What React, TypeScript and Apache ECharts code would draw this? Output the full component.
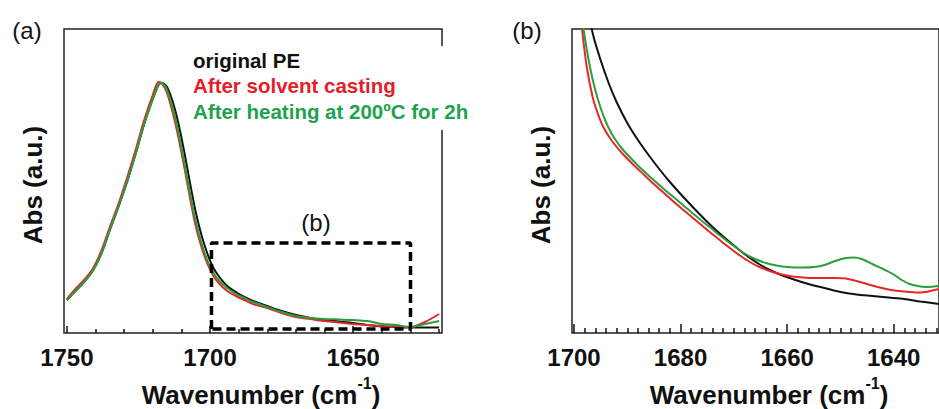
import React, { useEffect, useRef } from "react";
import * as echarts from "echarts";

const FONT = '"Liberation Sans", Arial, Helvetica, sans-serif';
const C_BLACK = "#111111";
const C_RED = "#e5262b";
const C_GREEN = "#2a9e3c";
const C_RED_TXT = "#e3202a";
const C_GREEN_TXT = "#22a24e";

// ---------- panel (a): full spectrum ----------
const wnA = [1750, 1747, 1744, 1741, 1738, 1735, 1732, 1729, 1726, 1723, 1720, 1718, 1717, 1716, 1715, 1713, 1711, 1709, 1707, 1705, 1703, 1701, 1699, 1697, 1694, 1691, 1688, 1685, 1680, 1675, 1670, 1665, 1660, 1655, 1650, 1645, 1640, 1635, 1630, 1625, 1620];
const absPE_A = [33, 42, 51, 62, 79, 103, 126, 151, 179, 209, 234, 248, 250, 249, 246, 231, 209, 181, 150, 121, 98, 80, 66, 57, 47, 41, 36, 32, 27, 22, 18, 15, 13, 11.5, 10, 8, 6.5, 6, 5.5, 5.5, 5.5];
const absCast_A = [34, 44, 53, 64, 82, 106, 129, 155, 183, 213, 238, 251, 250, 246, 240, 220, 195, 166, 135, 107, 86, 70, 58, 50, 42, 37, 33, 29, 25, 20, 16, 14, 12, 10.5, 9, 8, 7, 6.5, 6, 11, 19];
const absHeat_A = [33, 42, 51, 62, 79, 103, 126, 151, 179, 209, 234, 248, 250, 248, 243, 225, 200, 171, 140, 112, 90, 73, 61, 53, 45, 39, 35, 31, 26, 21, 17, 15, 14, 13.5, 13, 12, 9, 8, 6, 9, 12];
const majorTicksA = [1750, 1700, 1650];
const minorTicksA = [1740, 1730, 1720, 1710, 1690, 1680, 1670, 1660, 1640, 1630, 1620];
// zoom box (b) drawn on panel (a)
const boxWn = [1699.5, 1699.5, 1630, 1630, 1699.5];
const boxAbs = [4, 90, 90, 4, 4];

// ---------- panel (b): zoomed region ----------
const wnPE_B = [1698, 1696.5, 1695, 1693.5, 1692, 1690, 1688, 1686, 1684, 1682, 1680, 1677, 1674, 1671, 1668, 1665, 1662, 1659, 1656, 1653, 1650, 1647, 1644, 1641, 1638, 1635, 1631.5];
const absPE_B = [345, 300, 273, 250, 231, 210, 193, 178, 164, 151, 139, 122, 106, 92, 79, 68, 60, 54, 49, 45, 41, 38.5, 37, 35.5, 34, 31.5, 29];
const wnHeat_B = [1699.2, 1698.1, 1697, 1696, 1695, 1694, 1693, 1692, 1691, 1690, 1688, 1686, 1684, 1682, 1680, 1678, 1676, 1674, 1672, 1670, 1668, 1666, 1664, 1662, 1660, 1657, 1655, 1653, 1651, 1649, 1647.5, 1646, 1644, 1642, 1640, 1638.5, 1637, 1635.5, 1634, 1632.5, 1631.5];
const absHeat_B = [345, 300, 266, 243, 225, 211, 200, 191.5, 184.5, 178.5, 167.5, 157.5, 148, 139, 130, 121, 112, 103.5, 95, 87, 79.5, 74, 70, 67.5, 66, 65.5, 66, 68, 72, 75, 75.5, 74, 69, 64, 58.5, 53, 49, 47, 46, 46.5, 47];
const wnCast_B = [1699.3, 1698.4, 1697.6, 1696.5, 1695.5, 1694.5, 1693, 1691, 1689, 1687, 1685, 1683, 1681, 1679, 1677, 1675, 1673, 1671, 1669, 1667, 1665, 1663, 1661, 1659, 1657, 1655, 1653, 1651, 1649, 1647, 1645, 1643, 1641, 1639, 1637, 1635, 1633.5, 1631.5];
const absCast_B = [345, 300, 266, 236, 219, 206, 193, 180, 169, 159, 149, 139.5, 130, 121, 112, 103, 94.5, 86, 78, 71, 65.5, 61.5, 58.5, 56.5, 55.5, 55, 55, 55, 54.5, 52, 49, 46, 43.5, 42, 41, 40.5, 41.5, 44];
const majorTicksB = [1700, 1680, 1660, 1640];
const minorTicksB = [1698, 1696, 1694, 1692, 1690, 1688, 1686, 1684, 1682, 1678, 1676, 1674, 1672, 1670, 1668, 1666, 1664, 1662, 1658, 1656, 1654, 1652, 1650, 1648, 1646, 1644, 1642, 1638, 1636, 1634, 1632];

const legendNames = ["original PE", "After solvent casting", "After heating at 200ºC for 2h"];

const zip = (xs: number[], ys: number[]) => xs.map((x, i) => [x, ys[i]]);

function xAxes(grid: number, min: number, max: number, major: number[], minor: number[], majorLen: number, minorLen: number) {
  const tickStyle = { color: C_BLACK, width: 1.5 };
  return [
    {
      gridIndex: grid, type: "value", inverse: true, min, max, position: "bottom",
      axisLine: { show: false }, splitLine: { show: false },
      axisTick: { show: true, inside: true, length: majorLen, lineStyle: tickStyle, customValues: major },
      axisLabel: {
        show: true, customValues: major, fontSize: 24, fontWeight: "bold", fontFamily: FONT, color: C_BLACK, margin: 12,
        formatter: (v: number) => String(Math.round(v)),
      },
    },
    {
      gridIndex: grid, type: "value", inverse: true, min, max, position: "bottom",
      axisLine: { show: false }, splitLine: { show: false },
      axisTick: { show: true, inside: true, length: minorLen, lineStyle: tickStyle, customValues: minor },
      axisLabel: { show: false },
    },
  ];
}

function lineSeries(name: string, xi: number, yi: number, data: number[][], color: string) {
  return {
    name, type: "line", xAxisIndex: xi, yAxisIndex: yi, data, showSymbol: false, smooth: 0.3,
    clip: true, lineStyle: { color, width: 2 }, itemStyle: { color }, z: 3,
  };
}

export default function App() {
  const ref = useRef<HTMLDivElement>(null);
  useEffect(() => {
    if (!ref.current) return;
    const chart = echarts.init(ref.current, undefined, { renderer: "svg" });
    const xName = (x: number) => ({
      type: "text", x, y: 395, z: 100,
      style: {
        text: "{m|Wavenumber (cm}{s|-1}{m|)}",
        textAlign: "center", textVerticalAlign: "middle",
        rich: {
          m: { fontSize: 26, fontWeight: "bold", fontFamily: FONT, fill: C_BLACK, lineHeight: 40 },
          s: { fontSize: 16, fontWeight: "bold", fontFamily: FONT, fill: C_BLACK, verticalAlign: "top", lineHeight: 16 },
        },
      },
    });
    const yName = (x: number) => ({
      type: "text", x, y: 185, rotation: Math.PI / 2, z: 100,
      style: { text: "Abs (a.u.)", fontSize: 26, fontWeight: "bold", fontFamily: FONT, fill: C_BLACK, textAlign: "center", textVerticalAlign: "middle" },
    });
    const label = (text: string, x: number, y: number) => ({
      type: "text", x, y, z: 100,
      style: { text, fontSize: 24, fontFamily: FONT, fill: C_BLACK, textAlign: "center", textVerticalAlign: "middle" },
    });
    const legendColors = [C_BLACK, C_RED_TXT, C_GREEN_TXT];
    chart.setOption({
      animation: false,
      backgroundColor: "#ffffff",
      grid: [
        { left: 64, top: 29, width: 378, height: 304, show: true, borderColor: "#222", borderWidth: 1.5, backgroundColor: "transparent" },
        { left: 572, top: 29, width: 369, height: 304, show: true, borderColor: "#222", borderWidth: 1.5, backgroundColor: "transparent" },
      ],
      xAxis: [
        ...xAxes(0, 1619, 1751, majorTicksA, minorTicksA, 7, 4),
        ...xAxes(1, 1631.5, 1700.37, majorTicksB, minorTicksB, 9, 5),
      ],
      yAxis: [
        { gridIndex: 0, type: "value", min: 0, max: 304, show: false },
        { gridIndex: 1, type: "value", min: 0, max: 304, show: false },
      ],
      series: [
        lineSeries(legendNames[0], 0, 0, zip(wnA, absPE_A), C_BLACK),
        lineSeries(legendNames[1], 0, 0, zip(wnA, absCast_A), C_RED),
        lineSeries(legendNames[2], 0, 0, zip(wnA, absHeat_A), C_GREEN),
        {
          name: "box", type: "line", xAxisIndex: 0, yAxisIndex: 0, data: zip(boxWn, boxAbs),
          showSymbol: false, clip: false, z: 5,
          lineStyle: { color: "#000", width: 3.5, type: [9, 5] },
        },
        lineSeries(legendNames[0], 2, 1, zip(wnPE_B, absPE_B), C_BLACK),
        lineSeries(legendNames[1], 2, 1, zip(wnCast_B, absCast_B), C_RED),
        lineSeries(legendNames[2], 2, 1, zip(wnHeat_B, absHeat_B), C_GREEN),
      ],
      graphic: [
        { type: "rect", z: 99, shape: { x: 438, y: 46, width: 8, height: 84 }, style: { fill: "#ffffff" } },
        ...legendNames.map((t, i) => ({
          type: "text", x: 193, y: 60 + i * 25.5, z: 100,
          style: { text: t, fontSize: 20.5, fontWeight: "bold", fontFamily: FONT, fill: legendColors[i], textAlign: "left", textVerticalAlign: "middle" },
        })),
        label("(a)", 27, 30),
        label("(b)", 527, 30),
        label("(b)", 316, 222),
        yName(33),
        yName(541),
        xName(261),
        xName(769),
      ],
    });
    return () => chart.dispose();
  }, []);
  return <div ref={ref} style={{ position: "fixed", left: 0, top: 0, width: 939, height: 409 }} />;
}
